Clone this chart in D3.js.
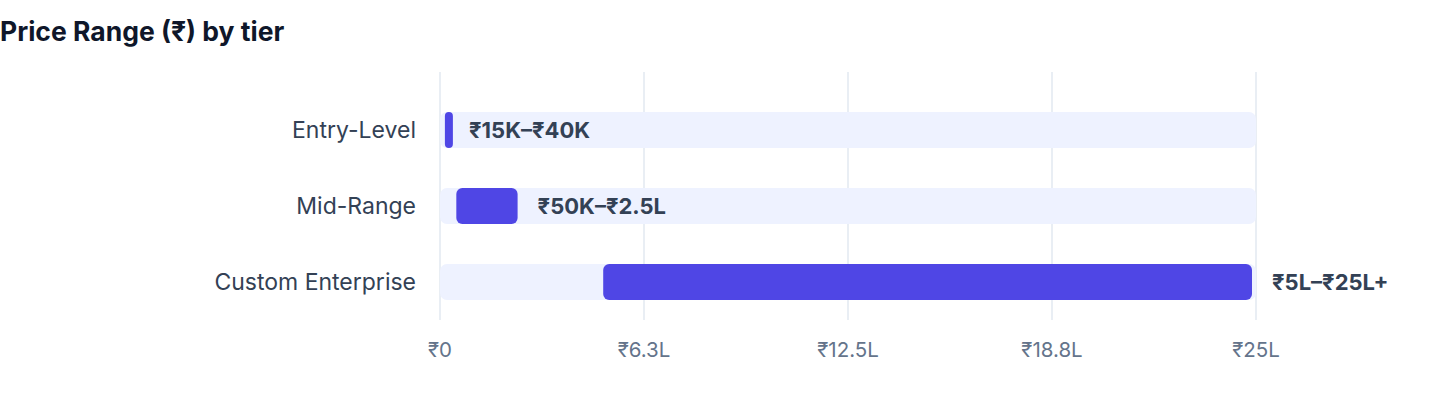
<!DOCTYPE html>
<html>
<head>
<meta charset="utf-8">
<script src="https://cdn.jsdelivr.net/npm/d3@7"></script>
<style>
  body { margin: 0; background: #fff; font-family: Inter, "Liberation Sans", Arial, "Noto Sans", sans-serif; }
</style>
</head>
<body>
<div id="chart"></div>
<script>
// data (values in lakh rupees)
const tiers = ["Entry-Level", "Mid-Range", "Custom Enterprise"];
const priceMin = [0.15, 0.5, 5];
const priceMax = [0.4, 2.5, 25];
const priceLabels = ["₹15K–₹40K", "₹50K–₹2.5L", "₹5L–₹25L+"];
const tickValues = [0, 6.25, 12.5, 18.75, 25];
const tickLabels = ["₹0", "₹6.3L", "₹12.5L", "₹18.8L", "₹25L"];

const width = 1440, height = 408;
const plot = { left: 440, right: 1256, top: 72, bottom: 320 };

const svg = d3.select("#chart")
    .append("svg")
    .attr("width", width)
    .attr("height", height);

// title
svg.append("text")
    .attr("x", 0)
    .attr("y", 41)
    .attr("font-size", "26.5px")
    .attr("font-weight", "bold")
    .attr("fill", "#0f172a")
    .text("Price Range (₹) by tier");

const x = d3.scaleLinear().domain([0, 25]).range([plot.left, plot.right]);
const y = d3.scaleBand()
    .domain(tiers)
    .range([plot.top + 20, plot.bottom])
    .paddingInner(0.526)
    .paddingOuter(0.263);

// vertical grid lines
svg.append("g")
    .selectAll("line")
    .data(tickValues)
    .join("line")
        .attr("x1", d => x(d))
        .attr("x2", d => x(d))
        .attr("y1", plot.top)
        .attr("y2", plot.bottom)
        .attr("stroke", "#e2e8f0")
        .attr("stroke-width", 1.5);

// x tick labels
svg.append("g")
    .selectAll("text")
    .data(tickValues)
    .join("text")
        .attr("x", d => x(d))
        .attr("y", 357)
        .attr("text-anchor", "middle")
        .attr("font-size", "20.5px")
        .attr("fill", "#64748b")
        .text((d, i) => tickLabels[i]);

const rows = tiers.map((t, i) => ({ tier: t, lo: priceMin[i], hi: priceMax[i], label: priceLabels[i] }));

// background tracks
svg.append("g")
    .selectAll("rect")
    .data(rows)
    .join("rect")
        .attr("x", x(0))
        .attr("y", d => y(d.tier))
        .attr("width", x(25) - x(0))
        .attr("height", y.bandwidth())
        .attr("rx", 7)
        .attr("fill", "#eef2ff");

// range bars
svg.append("g")
    .selectAll("rect")
    .data(rows)
    .join("rect")
        .attr("x", d => x(d.lo))
        .attr("y", d => y(d.tier))
        .attr("width", d => Math.max(8, x(d.hi) - x(d.lo) - 4))
        .attr("height", y.bandwidth())
        .attr("rx", d => Math.min(6, Math.max(8, x(d.hi) - x(d.lo) - 4) / 2))
        .attr("fill", "#4f46e5");

// value labels
svg.append("g")
    .selectAll("text")
    .data(rows)
    .join("text")
        .attr("x", d => x(d.hi) + 16)
        .attr("y", d => y(d.tier) + y.bandwidth() / 2)
        .attr("dy", "0.36em")
        .attr("font-size", "22px")
        .attr("font-weight", "bold")
        .attr("fill", "#334155")
        .text(d => d.label);

// category labels
svg.append("g")
    .selectAll("text")
    .data(rows)
    .join("text")
        .attr("x", plot.left - 24)
        .attr("y", d => y(d.tier) + y.bandwidth() / 2)
        .attr("dy", "0.36em")
        .attr("text-anchor", "end")
        .attr("font-size", "23px")
        .attr("fill", "#334155")
        .text(d => d.tier);
</script>
</body>
</html>
